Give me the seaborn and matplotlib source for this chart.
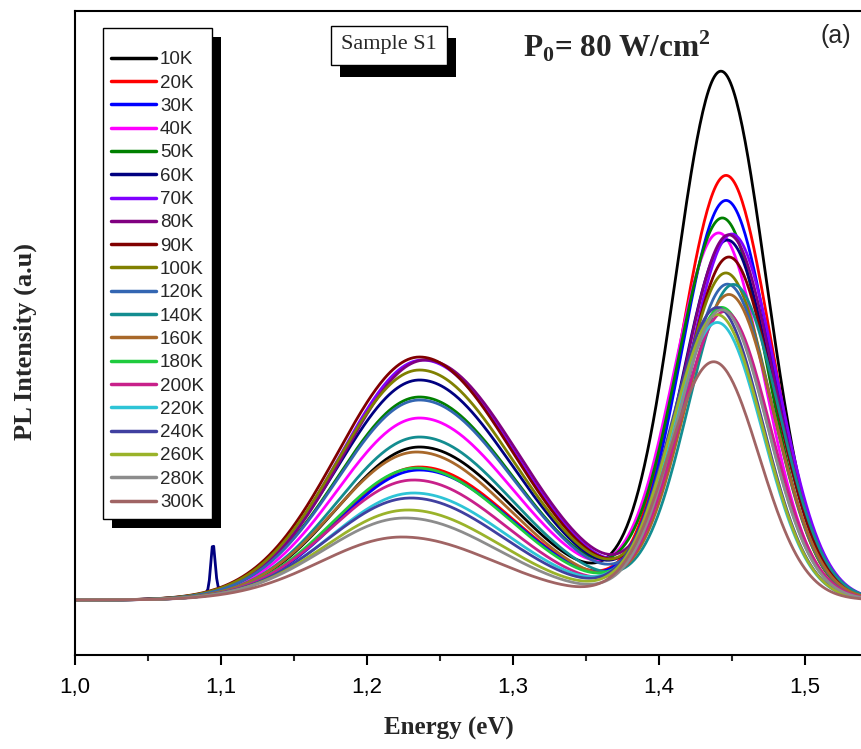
import matplotlib
matplotlib.use("Agg")
import matplotlib.pyplot as plt
import matplotlib.ticker as mticker
from matplotlib.patches import Rectangle
from matplotlib.transforms import IdentityTransform
import seaborn as sns
import pandas as pd
import numpy as np

# ==========================================
# 1. Data (arbitrary units)
# ==========================================
temps = ["10K", "20K", "30K", "40K", "50K", "60K", "70K", "80K", "90K", "100K",
         "120K", "140K", "160K", "180K", "200K", "220K", "240K", "260K", "280K", "300K"]

colors = ["#000000", "#FF0000", "#0000FF", "#FF00FF", "#008000", "#000080", "#8000FF",
          "#800080", "#800000", "#808000", "#3366B2", "#138D90", "#A8682A", "#1FCB3E",
          "#C8208A", "#2EC4D6", "#4040A0", "#9AB32A", "#8C8C8C", "#A06464"]

# broad band (~1.23 eV): peak height above baseline and centre
broad_height = [153, 133, 130, 182, 203, 220, 240, 240, 243, 230,
                200, 163, 148, 132, 120, 107, 102, 90, 82, 63]
broad_center = [1.236, 1.236, 1.236, 1.236, 1.236, 1.236, 1.238, 1.240, 1.236, 1.236,
                1.236, 1.236, 1.234, 1.234, 1.232, 1.232, 1.230, 1.228, 1.226, 1.224]

# sharp band (~1.445 eV): peak height above baseline and centre
sharp_height = [528, 424, 399, 366, 381, 359, 365, 364, 342, 326,
                315, 315, 305, 292, 288, 277, 292, 285, 290, 238]
sharp_center = [1.4425, 1.446, 1.446, 1.441, 1.4435, 1.447, 1.450, 1.448, 1.448, 1.446,
                1.447, 1.451, 1.448, 1.443, 1.445, 1.440, 1.440, 1.440, 1.443, 1.4375]

baseline = 55
sigma_left, sigma_right, sigma_sharp = 0.056, 0.064, 0.031

# narrow spike seen only on the 60K curve
spike_temp, spike_energy, spike_height = "60K", 1.0945, 47

energy = np.linspace(1.0, 1.56, 561)

rows = []
for i, t in enumerate(temps):
    sig = np.where(energy < broad_center[i], sigma_left, sigma_right)
    y = (baseline
         + broad_height[i] * np.exp(-(energy - broad_center[i]) ** 2 / (2 * sig ** 2))
         + sharp_height[i] * np.exp(-(energy - sharp_center[i]) ** 2 / (2 * sigma_sharp ** 2)))
    if t == spike_temp:
        y = y + spike_height * np.exp(-(energy - spike_energy) ** 2 / (2 * 0.0015 ** 2))
    rows.append(pd.DataFrame({"Energy": energy, "PL": y, "Temperature": t}))
df = pd.concat(rows, ignore_index=True)

# ==========================================
# 2. Plot
# ==========================================
sns.set_theme(style="ticks")
plt.rcParams["font.family"] = ["Liberation Sans", "DejaVu Sans"]
plt.rcParams["mathtext.fontset"] = "custom"
plt.rcParams["mathtext.rm"] = "Liberation Serif:bold"
plt.rcParams["mathtext.bf"] = "Liberation Serif:bold"

W, H = 861, 749
fig = plt.figure(figsize=(W / 100, H / 100), dpi=100)
fig.patch.set_facecolor("white")

x0, x1 = 1.0, 1.56
px_per_ev = 1460
ax_left, ax_bottom, ax_top = 75, 655, 11
ax_w = (x1 - x0) * px_per_ev
ax = fig.add_axes([ax_left / W, (H - ax_bottom) / H, ax_w / W, (ax_bottom - ax_top) / H])

sns.lineplot(data=df, x="Energy", y="PL", hue="Temperature", hue_order=temps,
             palette=dict(zip(temps, colors)), linewidth=2.0, estimator=None,
             ax=ax)

ax.set_xlim(x0, x1)
ax.set_ylim(0, ax_bottom - ax_top)
ax.set_yticks([])
ax.xaxis.set_major_locator(mticker.MultipleLocator(0.1))
ax.xaxis.set_minor_locator(mticker.MultipleLocator(0.05))
ax.xaxis.set_major_formatter(mticker.FuncFormatter(lambda v, p: f"{v:.1f}".replace(".", ",")))
ax.tick_params(axis="x", which="major", direction="out", length=7, width=1.5,
               labelsize=16, pad=9, colors="black")
ax.tick_params(axis="x", which="minor", direction="out", length=4.5, width=1.5)
for s in ax.spines.values():
    s.set_linewidth(1.5)
    s.set_color("black")

ax.set_xlabel("Energy (eV)", fontsize=18, fontweight="bold", family="Liberation Serif",
              va="center")
ax.xaxis.set_label_coords((449 - ax_left) / ax_w, (ax_bottom - 728) / (ax_bottom - ax_top))
ax.set_ylabel("PL Intensity (a.u)", fontsize=19, fontweight="bold", family="Liberation Serif",
              va="center")
ax.yaxis.set_label_coords((25 - ax_left) / ax_w, (ax_bottom - 341) / (ax_bottom - ax_top))

handles, labels = ax.get_legend_handles_labels()
leg = ax.legend(handles, labels, loc="upper left",
                bbox_to_anchor=((103 - ax_left) / ax_w, (ax_bottom - 28) / (ax_bottom - ax_top)),
                bbox_transform=ax.transAxes, borderaxespad=0, fontsize=13.5,
                title=" ", title_fontsize=6.5,
                handlelength=2.4, handletextpad=0.22, labelspacing=0.33, borderpad=0.42,
                fancybox=False, edgecolor="black", framealpha=1, frameon=True)
leg.get_frame().set_linewidth(1.0)
for line in leg.get_lines():
    line.set_linewidth(2.5)

sample = ax.text((389 - ax_left) / ax_w, (ax_bottom - 45) / (ax_bottom - ax_top), "Sample S1",
                 transform=ax.transAxes, ha="center", va="center", fontsize=16,
                 family="Liberation Serif", zorder=6,
                 bbox=dict(boxstyle="square,pad=0.45", facecolor="white", edgecolor="black",
                           linewidth=1.0))

fig.text(523 / W, 1 - 57 / H, r"$\mathbf{P_0}$= 80 W/cm$^\mathbf{2}$", fontsize=22.5,
         fontweight="bold", family="Liberation Serif", ha="left", va="baseline")
fig.text(836 / W, 1 - 36 / H, "(a)", fontsize=18, ha="center", va="center")

# black drop shadows behind the legend and the sample box
fig.canvas.draw()
renderer = fig.canvas.get_renderer()
for bb, dx, dy, z in [(leg.get_frame().get_window_extent(renderer), 9, 9, 4.5),
                      (sample.get_bbox_patch().get_window_extent(renderer), 9, 12, 5.5)]:
    ax.add_patch(Rectangle((bb.x0 + dx, bb.y0 - dy), bb.width, bb.height,
                           transform=IdentityTransform(), facecolor="black",
                           edgecolor="none", zorder=z, clip_on=False))

fig.savefig("out.png", dpi=100)
